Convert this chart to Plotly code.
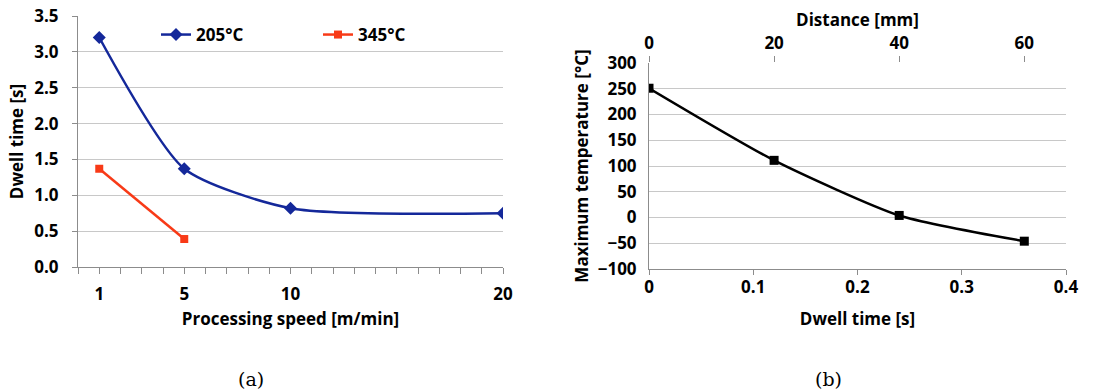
import plotly.graph_objects as go

# ---- data ----
speed_205 = [1, 5, 10, 20]
dwell_205 = [3.2, 1.37, 0.82, 0.75]
speed_345 = [1, 5]
dwell_345 = [1.37, 0.39]

dwell_b = [0.0, 0.12, 0.24, 0.36]
temp_b = [251, 111, 4, -46]
distance_b = [0, 20, 40, 60]

x_a_ticks = list(range(0, 21))
x_a_labels = ["" if v not in (1, 5, 10, 20) else str(v) for v in x_a_ticks]
y_a_ticks = [0, 0.5, 1.0, 1.5, 2.0, 2.5, 3.0, 3.5]
y_a_labels = ["0.0", "0.5", "1.0", "1.5", "2.0", "2.5", "3.0", "3.5"]
x_b_ticks = [0, 0.1, 0.2, 0.3, 0.4]
x_b_labels = ["0", "0.1", "0.2", "0.3", "0.4"]
y_b_ticks = list(range(-100, 301, 50))
top_ticks = [0, 20, 40, 60]

W, H = 1096, 390
FONT = "Open Sans"
BLUE = "#14289a"
RED = "#f83a17"
GRID = "#c8c8c8"
AXL = "#8c8c8c"

def fx(px):
    return px / W

def fy(py):
    return (H - py) / H

fig = go.Figure()

fig.add_trace(go.Scatter(x=speed_205, y=dwell_205, name="205°C", mode="lines+markers",
                         line=dict(color=BLUE, width=2.5, shape="spline", smoothing=0.65),
                         marker=dict(symbol="diamond", size=10, color=BLUE),
                         xaxis="x", yaxis="y"))
fig.add_trace(go.Scatter(x=speed_345, y=dwell_345, name="345°C", mode="lines+markers",
                         line=dict(color=RED, width=2.5),
                         marker=dict(symbol="square", size=8, color=RED),
                         xaxis="x", yaxis="y"))
fig.add_trace(go.Scatter(x=dwell_b, y=temp_b, mode="lines+markers", showlegend=False,
                         line=dict(color="black", width=2.5, shape="spline", smoothing=0.6),
                         marker=dict(symbol="square", size=9, color="black"),
                         xaxis="x2", yaxis="y2"))
fig.add_trace(go.Scatter(x=distance_b, y=temp_b, mode="none", showlegend=False,
                         hoverinfo="skip", xaxis="x3", yaxis="y2"))

tf = dict(family=FONT, size=17, color="black", weight="bold")

fig.update_layout(
    width=W, height=H,
    margin=dict(l=0, r=0, t=0, b=0, autoexpand=False),
    paper_bgcolor="white", plot_bgcolor="white",
    font=dict(family=FONT, color="black"),
    xaxis=dict(domain=[fx(78), fx(503)], range=[0, 20], tickvals=x_a_ticks, ticktext=x_a_labels,
               showgrid=False, zeroline=False, showline=True, linecolor=AXL, linewidth=1,
               ticks="outside", ticklen=6, tickcolor=AXL, tickfont=tf, ticklabelstandoff=6,
               title=dict(text="Processing speed [m/min]", font=tf, standoff=8),
               anchor="y", fixedrange=True, automargin=False),
    yaxis=dict(domain=[fy(267), fy(16)], range=[0, 3.5], tickvals=y_a_ticks, ticktext=y_a_labels,
               showgrid=True, gridcolor=GRID, gridwidth=1, zeroline=False,
               showline=True, linecolor=AXL, linewidth=1,
               ticks="outside", ticklen=5, tickcolor=AXL, tickfont=tf, ticklabelstandoff=10,
               title=dict(text="Dwell time [s]", font=tf, standoff=6),
               anchor="x", fixedrange=True, automargin=False),
    xaxis2=dict(domain=[fx(649), fx(1066)], range=[0, 0.4], tickvals=x_b_ticks, ticktext=x_b_labels,
                showgrid=False, zeroline=False, showline=True, linecolor=AXL, linewidth=1,
                ticks="outside", ticklen=5, tickcolor=AXL, tickfont=tf, ticklabelstandoff=-2,
                title=dict(text="Dwell time [s]", font=tf, standoff=15),
                anchor="y2", fixedrange=True, automargin=False),
    xaxis3=dict(overlaying="x2", side="top", range=[0, 200 / 3], tickvals=top_ticks,
                showgrid=False, zeroline=False, showline=False,
                ticks="outside", ticklen=6, tickcolor=AXL, tickfont=tf, ticklabelstandoff=0,
                title=dict(text="Distance [mm]", font=tf, standoff=0),
                anchor="y2", fixedrange=True, automargin=False),
    yaxis2=dict(domain=[fy(269), fy(63)], range=[-100, 300], tickvals=y_b_ticks,
                showgrid=True, gridcolor=GRID, gridwidth=1, zeroline=False,
                showline=True, linecolor=AXL, linewidth=1,
                ticks="", tickfont=tf, ticklabelstandoff=8,
                title=dict(text="Maximum temperature [°C]", font=tf, standoff=4),
                anchor="x2", fixedrange=True, automargin=False),
    legend=dict(orientation="h", x=fx(156), y=fy(35), xanchor="left", yanchor="middle",
                font=tf, bgcolor="rgba(0,0,0,0)", entrywidth=117, entrywidthmode="pixels",
                itemwidth=30),
    showlegend=True,
    annotations=[
        dict(text="(a)", x=fx(251), y=fy(379), xref="paper", yref="paper", showarrow=False,
             xanchor="center", yanchor="middle",
             font=dict(family="DejaVu Serif", size=19, color="black")),
        dict(text="(b)", x=fx(828), y=fy(379), xref="paper", yref="paper", showarrow=False,
             xanchor="center", yanchor="middle",
             font=dict(family="DejaVu Serif", size=19, color="black")),
    ],
)

fig.write_html("out.html")
